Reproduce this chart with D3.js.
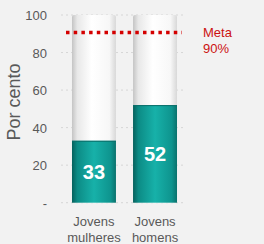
<html>
<head>
<script src="https://d3js.org/d3.v7.min.js"></script>
<style>
  body { margin: 0; background: #f2f2f2; }
  svg { font-family: Arial, "Liberation Sans", sans-serif; }
</style>
</head>
<body>
<div id="chart"></div>
<script>
// data
var categories = [["Jovens", "mulheres"], ["Jovens", "homens"]];
var values = [33, 52];
var target = 90;
var yTicks = [0, 20, 40, 60, 80, 100];
var yTickLabels = ["-", "20", "40", "60", "80", "100"];

var width = 264, height = 244;

var svg = d3.select("#chart").append("svg")
  .attr("width", width)
  .attr("height", height);

svg.append("rect").attr("width", width).attr("height", height).attr("fill", "#f2f2f2");

var x = d3.scaleBand()
  .domain(d3.range(categories.length))
  .range([61, 188])
  .paddingInner(0.28)
  .paddingOuter(0.18);

var y = d3.scaleLinear()
  .domain([0, 100])
  .range([202.7, 15]);

var defs = svg.append("defs");

var bg = defs.append("linearGradient").attr("id", "bgGrad");
bg.append("stop").attr("offset", "0%").attr("stop-color", "#c4c4c4");
bg.append("stop").attr("offset", "12%").attr("stop-color", "#e8e8e8");
bg.append("stop").attr("offset", "45%").attr("stop-color", "#ffffff");
bg.append("stop").attr("offset", "85%").attr("stop-color", "#f7f7f7");
bg.append("stop").attr("offset", "100%").attr("stop-color", "#d8d8d8");

var tg = defs.append("linearGradient").attr("id", "tealGrad");
tg.append("stop").attr("offset", "0%").attr("stop-color", "#06615d");
tg.append("stop").attr("offset", "12%").attr("stop-color", "#0c8b85");
tg.append("stop").attr("offset", "50%").attr("stop-color", "#17b1a9");
tg.append("stop").attr("offset", "88%").attr("stop-color", "#0e948e");
tg.append("stop").attr("offset", "100%").attr("stop-color", "#0a726d");

// faint dotted gridlines
svg.append("g").selectAll("line")
  .data(yTicks).enter().append("line")
  .attr("x1", 61).attr("x2", 186)
  .attr("y1", d => y(d)).attr("y2", d => y(d))
  .attr("stroke", "#d6d6d6")
  .attr("stroke-width", 1)
  .attr("stroke-dasharray", "2,3");

// y tick labels
svg.append("g").selectAll("text")
  .data(yTicks).enter().append("text")
  .attr("x", 47)
  .attr("y", d => y(d) + 5)
  .attr("text-anchor", "end")
  .attr("fill", "#595959")
  .style("font-size", "13px")
  .text((d, i) => yTickLabels[i]);

// y axis title
svg.append("text")
  .attr("transform", "translate(20,102) rotate(-90)")
  .attr("text-anchor", "middle")
  .attr("fill", "#595959")
  .style("font-size", "18px")
  .text("Por cento");

// background bars (100%)
svg.append("g").selectAll("rect")
  .data(values).enter().append("rect")
  .attr("x", (d, i) => x(i))
  .attr("width", x.bandwidth())
  .attr("y", y(100))
  .attr("height", y(0) - y(100))
  .attr("rx", 2)
  .attr("fill", "url(#bgGrad)");

// value bars
svg.append("g").selectAll("rect")
  .data(values).enter().append("rect")
  .attr("x", (d, i) => x(i))
  .attr("width", x.bandwidth())
  .attr("y", d => y(d))
  .attr("height", d => y(0) - y(d))
  .attr("fill", "url(#tealGrad)");

svg.append("g").selectAll("line")
  .data(values).enter().append("line")
  .attr("x1", (d, i) => x(i)).attr("x2", (d, i) => x(i) + x.bandwidth())
  .attr("y1", d => y(d) + 0.5).attr("y2", d => y(d) + 0.5)
  .attr("stroke", "#0a6f6a").attr("stroke-width", 1);

// value labels
svg.append("g").selectAll("text")
  .data(values).enter().append("text")
  .attr("x", (d, i) => x(i) + x.bandwidth() / 2)
  .attr("y", d => (y(d) + y(0)) / 2 + 7)
  .attr("text-anchor", "middle")
  .attr("fill", "#ffffff")
  .style("font-size", "20px")
  .style("font-weight", "bold")
  .text(d => d);

// target line
svg.append("line")
  .attr("x1", 66).attr("x2", 182)
  .attr("y1", y(target) - 1.2).attr("y2", y(target) - 1.2)
  .attr("stroke", "#d40000")
  .attr("stroke-width", 3.5)
  .attr("stroke-dasharray", "3.5,4.2");

svg.append("text")
  .attr("x", 203).attr("y", y(target) + 3)
  .attr("fill", "#cc1111")
  .style("font-size", "13px")
  .text("Meta");
svg.append("text")
  .attr("x", 203).attr("y", y(target) + 19)
  .attr("fill", "#cc1111")
  .style("font-size", "13px")
  .text(target + "%");

// category labels
var cat = svg.append("g").selectAll("text")
  .data(categories).enter().append("text")
  .attr("x", (d, i) => x(i) + x.bandwidth() / 2)
  .attr("y", 226)
  .attr("text-anchor", "middle")
  .attr("fill", "#595959")
  .style("font-size", "13px");
cat.selectAll("tspan")
  .data(d => d).enter().append("tspan")
  .attr("x", function() { return d3.select(this.parentNode).attr("x"); })
  .attr("dy", (d, i) => i === 0 ? 0 : 16)
  .text(d => d);
</script>
</body>
</html>
